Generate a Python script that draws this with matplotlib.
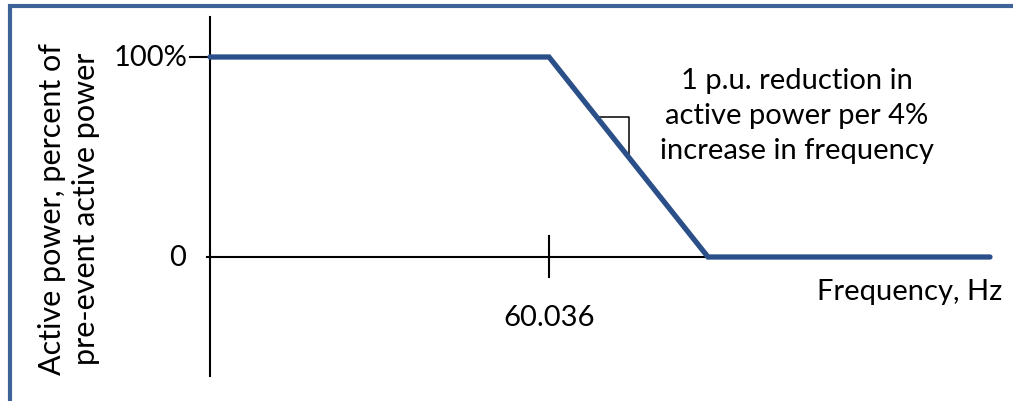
import numpy as np
import matplotlib
matplotlib.use("Agg")
import matplotlib.pyplot as plt
from matplotlib.patches import Rectangle

plt.rcParams['font.family'] = ['Lato', 'DejaVu Sans']

# -----------------------------
# Data
# -----------------------------
freq = [59.697, 60.036, 60.195, 60.477]   # Hz (schematic)
power = [100, 100, 0, 0]                  # % of pre-event active power
y_ticks = [0, 100]
y_tick_labels = ["0", "100%"]
x_tick = 60.036
x_tick_label = "60.036"

LINE_BLUE = "#2b5089"
FRAME_BLUE = "#3d6399"
FS = 21

fig = plt.figure(figsize=(10.13, 4.02), dpi=100)
ax = fig.add_axes([0, 0, 1, 1])
ax.set_xlim(59.487, 60.500)
ax.set_ylim(-72, 129)
ax.axis("off")

# axes lines
ax.plot([freq[0], freq[0]], [-59.5, 120], color="black", lw=1.5)
ax.plot([59.694, freq[-1]], [0, 0], color="black", lw=1.5)

# ticks
ax.plot([59.677, 59.718], [100, 100], color="black", lw=1.5)
ax.plot([x_tick, x_tick], [-10, 10.5], color="black", lw=1.5)

# response curve
ax.plot(freq, power, color=LINE_BLUE, lw=3.8, solid_capstyle="round",
        solid_joinstyle="miter", zorder=3)

# slope marker
y_hi, y_lo = 70, 50
x_hi = np.interp(-y_hi, [-p for p in power[1:3]], freq[1:3])
x_lo = np.interp(-y_lo, [-p for p in power[1:3]], freq[1:3])
ax.plot([x_hi, x_lo, x_lo], [y_hi, y_hi, y_lo], color="black", lw=1.1, zorder=2)

# tick labels
ax.text(59.675, y_ticks[1], y_tick_labels[1], ha="right", va="center", fontsize=FS)
ax.text(59.673, y_ticks[0], y_tick_labels[0], ha="right", va="center", fontsize=FS)
ax.text(x_tick, -30, x_tick_label, ha="center", va="center", fontsize=FS)

# axis labels
ax.text(60.397, -17, "Frequency, Hz", ha="center", va="center", fontsize=FS)
ax.text(59.556, 24.5, "Active power, percent of\npre-event active power",
        rotation=90, ha="center", va="center", multialignment="center",
        fontsize=22, linespacing=1.25)

# annotation
ax.text(60.284, 71, "1 p.u. reduction in\nactive power per 4%\nincrease in frequency",
        ha="center", va="center", multialignment="center", fontsize=FS,
        linespacing=1.42)

# frame
fig.patches.append(Rectangle((9.5 / 1013, -0.05), 1.2, 1 - 7 / 402 + 0.05,
                             transform=fig.transFigure, fill=False,
                             edgecolor=FRAME_BLUE, lw=3))

fig.savefig("out.png", dpi=100)
